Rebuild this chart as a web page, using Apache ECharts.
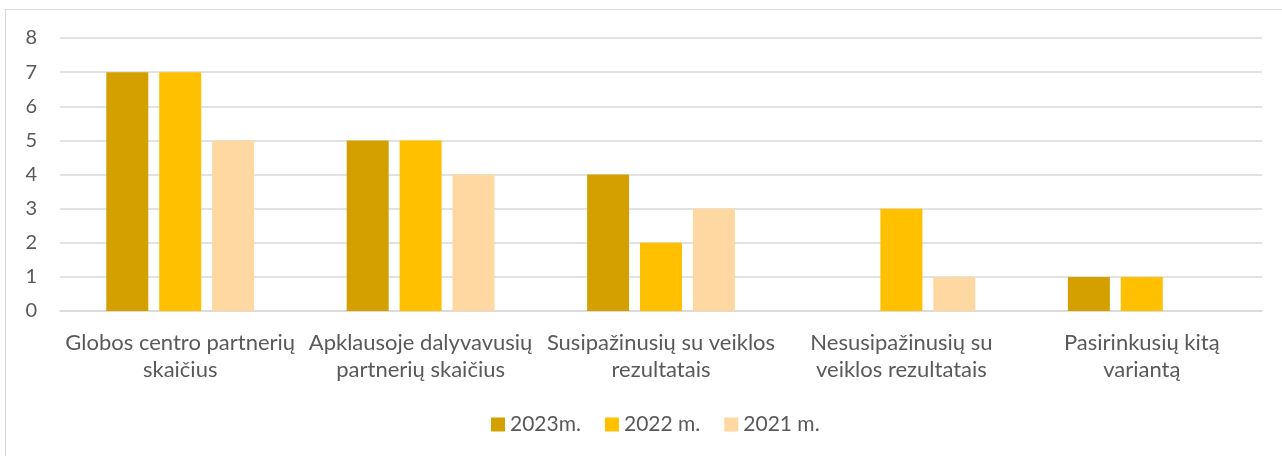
<!DOCTYPE html>
<html>
<head>
<meta charset="utf-8">
<script src="https://cdn.jsdelivr.net/npm/echarts@6/dist/echarts.min.js"></script>
<style>
    html, body { margin: 0; padding: 0; background: #fff; }
    .frame {
        position: absolute; left: 5px; top: 9px; width: 1300px; height: 480px;
        border: 1.5px solid #D9D9D9; box-sizing: border-box;
    }
    #chart { position: absolute; left: 0; top: 0; width: 1282px; height: 456px; }
</style>
</head>
<body>
<div class="frame"></div>
<div id="chart"></div>
<script>
    const categories = [
        'Globos centro partnerių\nskaičius',
        'Apklausoje dalyvavusių\npartnerių skaičius',
        'Susipažinusių su veiklos\nrezultatais',
        'Nesusipažinusių su\nveiklos rezultatais',
        'Pasirinkusių kitą\nvariantą'
    ];
    const seriesNames = ['2023m.', '2022 m.', '2021 m.'];
    const values2023 = [7, 5, 4, 0, 1];
    const values2022 = [7, 5, 2, 3, 1];
    const values2021 = [5, 4, 3, 1, 0];
    const yTicks = [0, 1, 2, 3, 4, 5, 6, 7, 8];

    const colors = ['#D4A000', '#FFC000', '#FED8A0'];
    const font = 'Lato, "Open Sans", sans-serif';

    const myChart = echarts.init(document.getElementById('chart'));
    const options = {
        animation: false,
        color: colors,
        textStyle: { fontFamily: font },
        grid: { left: 60, right: 20, top: 38, bottom: 145, containLabel: false },
        legend: {
            bottom: 16,
            left: 486,
            itemWidth: 14,
            itemHeight: 14,
            itemGap: 24,
            icon: 'rect',
            textStyle: { color: '#595959', fontSize: 21, fontFamily: font },
            data: seriesNames
        },
        xAxis: {
            type: 'category',
            data: categories,
            axisLine: { lineStyle: { color: '#D9D9D9', width: 1.5 } },
            axisTick: { show: false },
            axisLabel: {
                color: '#595959', fontSize: 22, lineHeight: 27, margin: 18,
                interval: 0, fontFamily: font
            }
        },
        yAxis: {
            type: 'value',
            min: yTicks[0],
            max: yTicks[yTicks.length - 1],
            interval: 1,
            axisLine: { show: false },
            axisTick: { show: false },
            axisLabel: { color: '#595959', fontSize: 20, margin: 23, fontFamily: font },
            splitLine: { lineStyle: { color: '#D9D9D9', width: 1.5 } }
        },
        series: [
            { name: seriesNames[0], type: 'bar', data: values2023, barWidth: 42, barGap: '26%' },
            { name: seriesNames[1], type: 'bar', data: values2022, barWidth: 42, barGap: '26%' },
            { name: seriesNames[2], type: 'bar', data: values2021, barWidth: 42, barGap: '26%' }
        ]
    };
    myChart.setOption(options);
</script>
</body>
</html>
